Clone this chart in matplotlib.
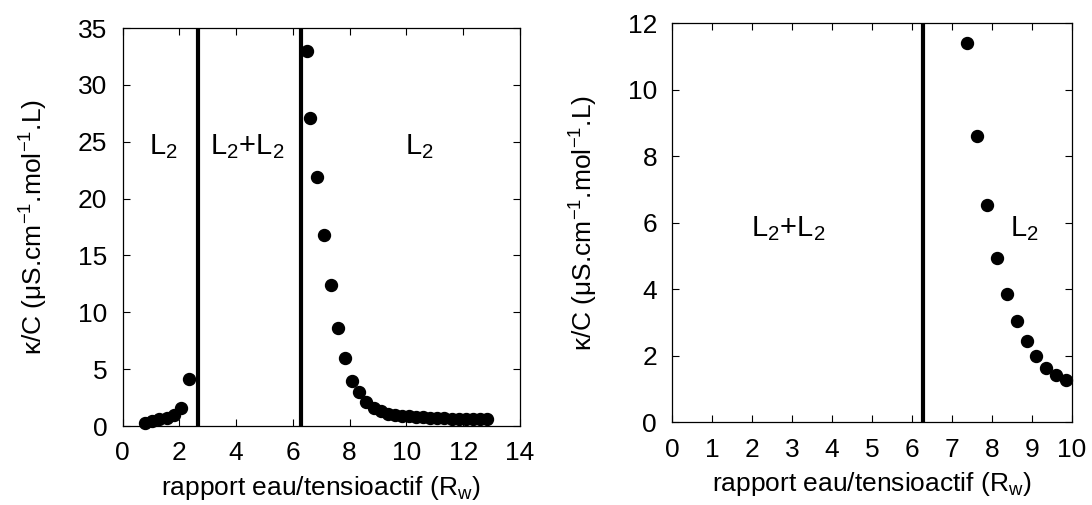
import matplotlib
matplotlib.use('Agg')
import matplotlib.pyplot as plt
import numpy as np

# left panel data
rw_low = [0.80, 1.05, 1.30, 1.55, 1.80, 2.05, 2.35]
kc_low = [0.30, 0.45, 0.58, 0.72, 0.95, 1.60, 4.10]

rw_high = [6.48, 6.60, 6.86, 7.10, 7.34, 7.59, 7.85, 8.08, 8.34, 8.59,
           8.84, 9.09, 9.34, 9.59, 9.84, 10.09, 10.34, 10.59, 10.84, 11.09,
           11.34, 11.59, 11.84, 12.09, 12.34, 12.59, 12.84]
kc_high = [33.0, 27.1, 21.9, 16.8, 12.4, 8.6, 6.0, 4.0, 2.95, 2.1,
           1.60, 1.30, 1.10, 0.98, 0.90, 0.84, 0.79, 0.75, 0.72, 0.69,
           0.67, 0.65, 0.63, 0.61, 0.60, 0.59, 0.58]

# right panel data (zoom)
rw_zoom = [7.38, 7.63, 7.87, 8.12, 8.37, 8.62, 8.87, 9.11, 9.36, 9.61, 9.86]
kc_zoom = [11.4, 8.6, 6.53, 4.95, 3.85, 3.04, 2.44, 1.98, 1.62, 1.42, 1.27]

phase_lines_left = [2.67, 6.28]
phase_lines_right = [6.28]

plt.rcParams['font.family'] = ['Liberation Sans', 'DejaVu Sans']
plt.rcParams['mathtext.default'] = 'regular'
FS = 19
FS_REGION = 21

fig = plt.figure(figsize=(10.92, 5.05), dpi=100)
ax1 = fig.add_axes([0.1122, 0.1564, 0.364, 0.788])
ax2 = fig.add_axes([0.6157, 0.1638, 0.3657, 0.790])

ylab = 'κ/C (μS.cm$^{-1}$.mol$^{-1}$.L)'
xlab = 'rapport eau/tensioactif (R$_w$)'

def style(ax, xmax, xstep, ymax, ystep):
    ax.set_xlim(0, xmax)
    ax.set_ylim(0, ymax)
    ax.set_xticks(np.arange(0, xmax + 0.01, xstep))
    ax.set_yticks(np.arange(0, ymax + 0.01, ystep))
    ax.tick_params(direction='in', top=True, right=True, length=5, width=0.8,
                   labelsize=FS)
    ax.tick_params(axis='y', pad=11)
    ax.tick_params(axis='x', pad=11)
    for s in ax.spines.values():
        s.set_linewidth(0.9)
    ax.set_xlabel(xlab, fontsize=FS, labelpad=6)
    ax.set_ylabel(ylab, fontsize=FS, labelpad=20)

# left
style(ax1, 14, 2, 35, 5)
for xv in phase_lines_left:
    ax1.axvline(xv, color='black', lw=3, zorder=2)
ax1.plot(rw_low, kc_low, 'o', color='black', ms=8.6, clip_on=False, zorder=3)
ax1.plot(rw_high, kc_high, 'o', color='black', ms=8.6, clip_on=False, zorder=3)
ax1.text(1.43, 24.6, 'L$_2$', ha='center', va='center', fontsize=FS_REGION)
ax1.text(4.38, 24.6, 'L$_2$+L$_2$', ha='center', va='center', fontsize=FS_REGION)
ax1.text(10.47, 24.6, 'L$_2$', ha='center', va='center', fontsize=FS_REGION)

# right
style(ax2, 10, 1, 12, 2)
for xv in phase_lines_right:
    ax2.axvline(xv, color='black', lw=3, zorder=2)
ax2.plot(rw_zoom, kc_zoom, 'o', color='black', ms=8.6, clip_on=False, zorder=3)
ax2.text(2.9, 5.83, 'L$_2$+L$_2$', ha='center', va='center', fontsize=FS_REGION)
ax2.text(8.82, 5.83, 'L$_2$', ha='center', va='center', fontsize=FS_REGION)

fig.savefig('out.png', dpi=100)
